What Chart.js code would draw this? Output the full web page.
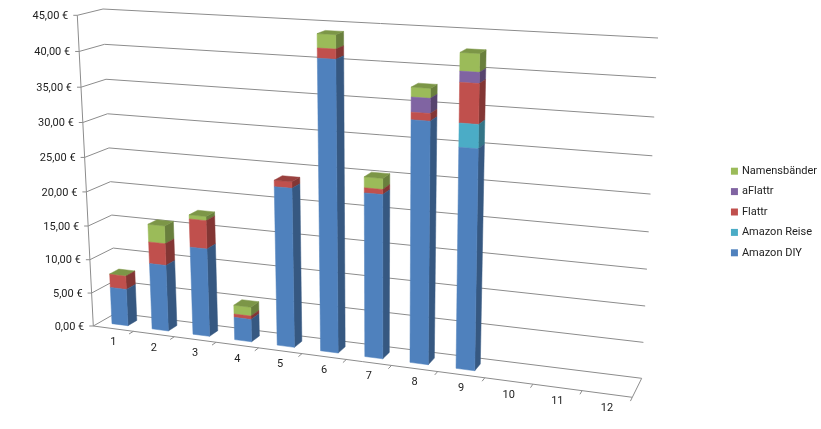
<!DOCTYPE html>
<html>
<head>
<meta charset="utf-8">
<style>
  html, body { margin: 0; background: #fff; }
  canvas { display: block; }
</style>
<script src="https://cdn.jsdelivr.net/npm/chart.js@4"></script>
</head>
<body>
<canvas id="myChart" width="821" height="429"></canvas>
<script>
const categories = ['1', '2', '3', '4', '5', '6', '7', '8', '9', '10', '11', '12']
const amazonDiy = [5.5, 9.8, 12.9, 3.3, 22.8, 40.8, 23.1, 33.5, 30.35, 0, 0, 0]
const amazonReise = [0, 0, 0, 0, 0, 0, 0, 0, 3.2, 0, 0, 0]
const flattr = [2, 3.2, 4.1, 0.5, 0.9, 1.35, 0.7, 1, 5.3, 0, 0, 0]
const aFlattr = [0, 0, 0, 0, 0, 0, 0, 2, 1.45, 0, 0, 0]
const namensbaender = [0.05, 2.6, 0.6, 1.3, 0, 1.9, 1.5, 1.3, 2.4, 0, 0, 0]

const font = '11px Roboto'
const lineColor = '#8c8c8c'

// corners of the 3D box on screen: bottom left, bottom right, top right, top left
const frontPlane = [[93.3, 326], [632.3, 397.3], [647, 48], [77.3, 15.3]]
const backPlane = [[116, 313], [641.7, 378.3], [658, 38], [103, 9]]
const barDepth = [0.3, 0.7]

const homography = function ([p0, p1, p2, p3]) {
  const dx1 = p1[0] - p2[0]
  const dx2 = p3[0] - p2[0]
  const sx = p0[0] - p1[0] + p2[0] - p3[0]
  const dy1 = p1[1] - p2[1]
  const dy2 = p3[1] - p2[1]
  const sy = p0[1] - p1[1] + p2[1] - p3[1]
  const den = dx1 * dy2 - dx2 * dy1
  const g = (sx * dy2 - dx2 * sy) / den
  const h = (dx1 * sy - sx * dy1) / den
  return (u, v) => {
    const w = g * u + h * v + 1
    return [
      ((p1[0] - p0[0] + g * p1[0]) * u + (p3[0] - p0[0] + h * p3[0]) * v + p0[0]) / w,
      ((p1[1] - p0[1] + g * p1[1]) * u + (p3[1] - p0[1] + h * p3[1]) * v + p0[1]) / w,
    ]
  }
}
const front = homography(frontPlane)
const back = homography(backPlane)

const project = (u, v, d) => {
  const a = front(u, v)
  const b = back(u, v)
  return [a[0] + (b[0] - a[0]) * d, a[1] + (b[1] - a[1]) * d]
}

const shade = (hex, f) => {
  const n = parseInt(hex.slice(1), 16)
  const c = [n >> 16, (n >> 8) & 255, n & 255].map((x) => Math.round(x * f))
  return 'rgb(' + c.join(',') + ')'
}

const polyLine = (ctx, pts) => {
  ctx.beginPath()
  pts.forEach((p, i) => (i ? ctx.lineTo(p[0], p[1]) : ctx.moveTo(p[0], p[1])))
}

const face = (ctx, pts, color) => {
  polyLine(ctx, pts)
  ctx.closePath()
  ctx.fillStyle = color
  ctx.fill()
  ctx.strokeStyle = color
  ctx.lineWidth = 0.5
  ctx.stroke()
}

const perspective = {
  id: 'perspective',
  beforeDatasetsDraw(chart) {
    const { ctx, chartArea, scales } = chart
    const uOf = (x) => (x - chartArea.left) / chartArea.width
    const vOf = (y) => (chartArea.bottom - y) / chartArea.height

    // walls and floor
    ctx.save()
    ctx.strokeStyle = lineColor
    ctx.lineWidth = 1
    ctx.font = font
    ctx.textBaseline = 'middle'
    scales.y.ticks.forEach((tick) => {
      const v = vOf(scales.y.getPixelForValue(tick.value))
      const p = project(0, v, 0)
      polyLine(ctx, [[p[0] - 4, p[1]], p, project(0, v, 1), project(1, v, 1)])
      ctx.stroke()
      ctx.fillStyle = '#222'
      ctx.textAlign = 'right'
      ctx.fillText(tick.label, p[0] - 9, p[1] + 1)
    })
    polyLine(ctx, [project(0, 1, 0), project(0, 0, 0), project(1, 0, 0), project(1, 0, 1)])
    ctx.stroke()

    // category axis runs along the front edge of the floor
    ctx.textAlign = 'center'
    scales.x.ticks.forEach((tick, i) => {
      const c = project(uOf(scales.x.getPixelForTick(i)), 0, 0)
      ctx.fillText(tick.label, c[0], c[1] + 14)
    })
    for (let i = 1; i <= categories.length; i++) {
      const u = i / categories.length
      polyLine(ctx, [project(u, 0, 0), project(u, 0, -0.2)])
      ctx.stroke()
    }

    // bars, using the elements the bar controller laid out
    const last = chart.data.datasets.length - 1
    categories.forEach((_, i) => {
      let topSeen = false
      for (let s = last; s >= 0; s--) {
        const el = chart.getDatasetMeta(s).data[i]
        const color = chart.data.datasets[s].backgroundColor
        if (!chart.data.datasets[s].data[i]) continue
        const u0 = uOf(el.x - el.width / 2)
        const u1 = uOf(el.x + el.width / 2)
        const v0 = vOf(el.base)
        const v1 = vOf(el.y)
        const [d0, d1] = barDepth
        face(ctx, [project(u1, v0, d0), project(u1, v0, d1), project(u1, v1, d1), project(u1, v1, d0)], shade(color, 0.68))
        face(ctx, [project(u0, v0, d0), project(u1, v0, d0), project(u1, v1, d0), project(u0, v1, d0)], color)
        if (!topSeen) {
          face(ctx, [project(u0, v1, d0), project(u1, v1, d0), project(u1, v1, d1), project(u0, v1, d1)], shade(color, 0.8))
          topSeen = true
        }
      }
    })
    ctx.restore()
    return false
  },
}

const series = [
  { label: 'Amazon DIY', data: amazonDiy, backgroundColor: '#4F81BD' },
  { label: 'Amazon Reise', data: amazonReise, backgroundColor: '#4BACC6' },
  { label: 'Flattr', data: flattr, backgroundColor: '#C0504D' },
  { label: 'aFlattr', data: aFlattr, backgroundColor: '#8064A2' },
  { label: 'Namensbänder', data: namensbaender, backgroundColor: '#9BBB59' },
]

const myChart = new Chart(document.getElementById('myChart'), {
  type: 'bar',
  data: { labels: categories, datasets: series },
  plugins: [perspective],
  options: {
    responsive: false,
    animation: false,
    layout: { padding: { right: -6, bottom: 5 } },
    categoryPercentage: 1,
    barPercentage: 0.4,
    scales: {
      x: {
        stacked: true,
        grid: { display: false },
        border: { display: false },
        ticks: { display: false },
      },
      y: {
        stacked: true,
        min: 0,
        max: 45,
        grid: { display: false },
        border: { display: false },
        ticks: {
          display: false,
          stepSize: 5,
          callback: (v) => v.toFixed(2).replace('.', ',') + ' €',
        },
      },
    },
    plugins: {
      tooltip: { enabled: false },
      legend: {
        position: 'right',
        reverse: true,
        labels: {
          color: '#222',
          font: { family: 'Roboto', size: 11 },
          usePointStyle: true,
          pointStyle: 'rect',
          boxWidth: 4,
          boxHeight: 7,
          padding: 9.4,
        },
      },
    },
  },
})
</script>
</body>
</html>
